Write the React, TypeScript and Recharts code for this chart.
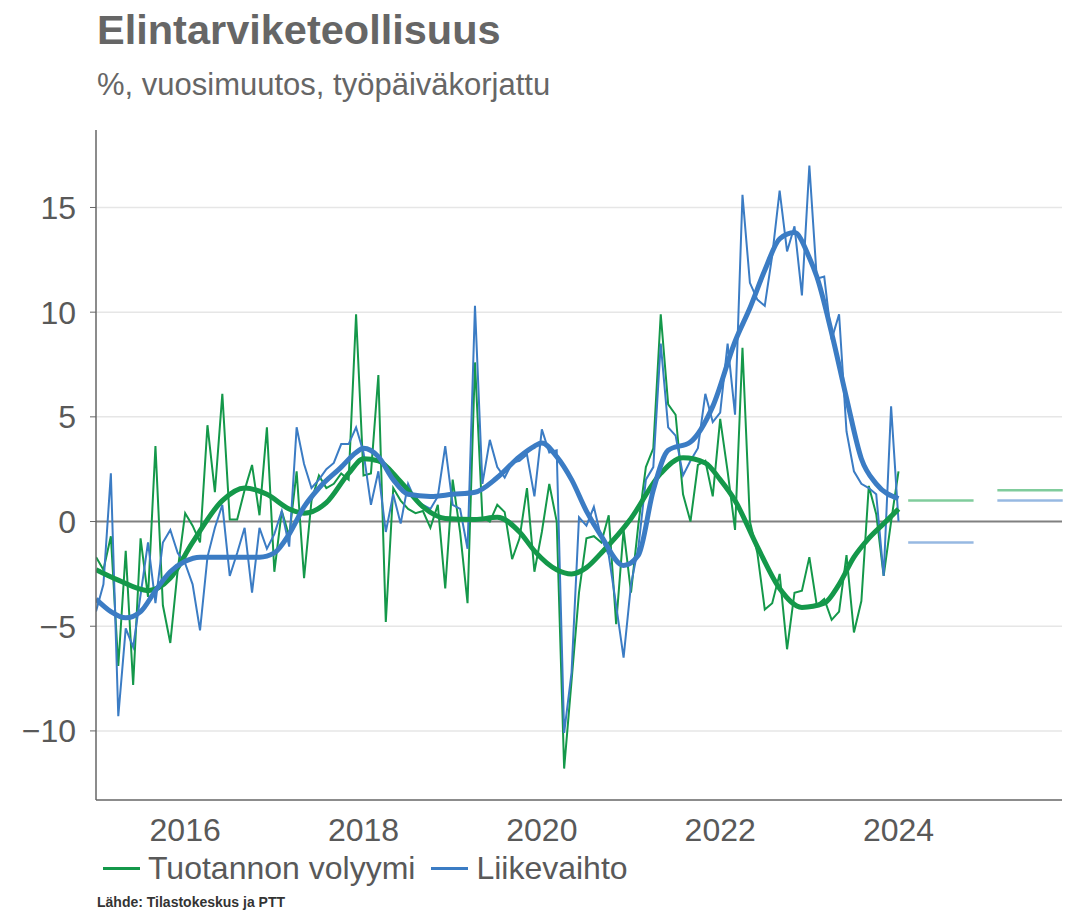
import React from 'react';
import { LineChart, Line, XAxis, YAxis, ReferenceLine } from 'recharts';

// monthly year-on-year change, Jan 2015 .. Jan 2024
const START_YEAR = 2015;

const volyymi = [
  -1.7, -2.3, -0.7, -6.9, -1.4, -7.8, -0.8, -3.6, 3.6, -4.0, -5.8, -2.3,
  0.4, -0.2, -1.0, 4.6, 1.4, 6.1, 0.1, 0.1, 1.5, 2.7, 0.3, 4.5,
  -2.4, 0.5, -0.7, 2.4, -2.7, 1.0, 2.2, 1.6, 1.8, 2.3, 2.0, 9.9,
  2.2, 2.3, 7.0, -4.8, 1.6, 1.0, 0.6, 0.4, 0.5, -0.3, 0.8, -3.2,
  2.0, -0.5, -3.9, 7.6, 0.2, 0.0, 0.8, 0.45, -1.8, -0.8, 1.6, -2.4,
  -0.5, 1.8, 0.0, -11.8, -7.6, -3.4, -0.8, -0.7, -1.0, 0.3, -4.9, -0.4,
  -3.4, -0.1, 2.6, 3.5, 9.9, 5.6, 5.1, 1.3, 0.0, 2.7, 2.9, 1.2,
  4.9, 2.4, -0.4, 8.3, 0.0, -1.5, -4.2, -3.9, -2.5, -6.1, -3.4, -3.3,
  -1.7, -4.0, -3.7, -4.7, -4.3, -1.6, -5.3, -3.8, 1.7, 0.35, -2.6, 0.0,
  2.4,
];

const liikevaihto = [
  -4.3, -3.0, 2.3, -9.3, -5.1, -6.0, -3.5, -1.0, -3.9, -1.0, -0.4, -1.5,
  -2.0, -3.0, -5.2, -1.7, -0.3, 0.8, -2.6, -1.5, -0.3, -3.4, -0.3, -1.3,
  -0.6, 0.5, -1.2, 4.5, 2.75, 1.6, 2.0, 2.5, 2.8, 3.7, 3.7, 4.5,
  3.3, 0.8, 2.4, -0.5, 1.3, -0.1, 1.8, 1.0, 0.8, 0.6, 1.2, 3.6,
  0.8, 0.6, -1.3, 10.3, 1.8, 3.9, 2.6, 2.1, 2.8, 2.9, 3.2, 1.2,
  4.4, 3.3, 3.4, -10.1, -7.2, 0.2, -0.2, 0.7, -0.8, -1.6, -4.0, -6.5,
  -3.0, -1.2, 2.0, 2.6, 8.5, 4.5, 4.1, 2.2, 2.9, 3.5, 6.1, 4.75,
  5.2, 8.5, 5.1, 15.6, 11.4, 10.6, 10.3, 12.7, 15.8, 12.9, 14.1, 10.8,
  17.0, 11.6, 11.7, 8.7, 9.9, 4.3, 2.4, 1.8, 1.6, 1.3, -2.6, 5.5,
  0.0,
];

// smoothed trends: [month index, value]
const volyymiTrend: [number, number][] = [
  [0, -2.3], [3, -2.8], [7, -3.3], [10, -2.7], [13, -1.0], [17, 1.0], [20, 1.6],
  [23, 1.3], [26, 0.6], [28, 0.4], [31, 0.9], [34, 2.3], [36, 3.0], [38, 2.9],
  [41, 1.9], [44, 0.7], [47, 0.15], [51, 0.1], [54, 0.2], [57, -0.5], [59, -1.4],
  [62, -2.3], [64, -2.5], [66, -2.2], [68, -1.5], [72, 0.15], [76, 2.3], [79, 3.05],
  [82, 2.8], [84, 2.0], [86, 1.0], [89, -1.2], [92, -3.2], [95, -4.1], [98, -3.9],
  [100, -3.0], [102, -1.7], [104, -0.8], [106, -0.1], [108, 0.6],
];

const liikevaihtoTrend: [number, number][] = [
  [0, -3.7], [2, -4.3], [4, -4.6], [6, -4.3], [8, -3.3], [10, -2.4], [12, -1.9],
  [14, -1.7], [18, -1.7], [22, -1.7], [24, -1.5], [26, -0.6], [28, 0.7], [30, 1.6],
  [33, 2.6], [35, 3.3], [36, 3.5], [38, 3.1], [40, 2.0], [42, 1.3], [45, 1.2],
  [48, 1.3], [51, 1.4], [54, 2.1], [57, 3.1], [59, 3.6], [60, 3.75], [62, 3.1],
  [64, 2.0], [66, 0.5], [68, -0.7], [71, -2.1], [73, -1.6], [75, 1.5], [77, 3.4],
  [80, 3.8], [83, 5.5], [86, 8.6], [88, 10.2], [90, 12.0], [92, 13.5], [94, 13.8],
  [96, 12.6], [97, 11.7], [99, 9.0], [101, 5.9], [103, 3.0], [105, 1.8], [108, 1.1],
];

// forecasts for 2024 and 2025
const forecastYears = [2024, 2025];
const forecastVolyymi = [1.0, 1.5];
const forecastLiikevaihto = [-1.0, 1.0];

const yTicks = [-10, -5, 0, 5, 10, 15];
const xTickYears = [2016, 2018, 2020, 2022, 2024];

const GREEN = '#14984a';
const BLUE = '#3b7cc4';
const GREEN_LIGHT = '#80cc9c';
const BLUE_LIGHT = '#97b9e2';
const FONT = '"Liberation Sans", Arial, sans-serif';

const data = volyymi.map((v, i) => ({ m: i, volyymi: v, liikevaihto: liikevaihto[i] }));
const toPoints = (arr: [number, number][]) => arr.map(([m, v]) => ({ m, v }));
const yearToMonth = (y: number) => (y - START_YEAR) * 12;

export default function App() {
  return (
    <div style={{ position: 'absolute', top: 0, left: 0, width: 1069, height: 910, background: '#fff', fontFamily: FONT }}>
      <div style={{ position: 'absolute', left: 97, top: 9, fontSize: 41.5, lineHeight: 1, fontWeight: 'bold', color: '#666' }}>
        Elintarviketeollisuus
      </div>
      <div style={{ position: 'absolute', left: 97, top: 69, fontSize: 31, lineHeight: 1, color: '#666' }}>
        %, vuosimuutos, työpäiväkorjattu
      </div>

      <div style={{ position: 'absolute', left: 0, top: 0 }}>
        <LineChart width={1069} height={850} data={data} margin={{ top: 130, right: 7, bottom: 0, left: 0 }}>
          <XAxis
            dataKey="m"
            type="number"
            domain={[0, 130]}
            ticks={xTickYears.map(yearToMonth)}
            tickFormatter={(m: number) => String(START_YEAR + m / 12)}
            tick={{ fontSize: 32, fill: '#595959', fontFamily: FONT }}
            tickLine={false}
            tickMargin={12}
            height={50}
            axisLine={{ stroke: '#666', strokeWidth: 1.5 }}
            allowDataOverflow
          />
          <YAxis
            type="number"
            domain={[-13.3, 18.7]}
            ticks={yTicks}
            tickFormatter={(v: number) => String(v).replace('-', '\u2212')}
            tick={{ fontSize: 32, fill: '#595959', fontFamily: FONT }}
            tickLine={{ stroke: '#666' }}
            tickSize={6}
            tickMargin={14}
            width={96}
            axisLine={{ stroke: '#666', strokeWidth: 1.5 }}
            allowDataOverflow
          />
          {yTicks.filter((t) => t !== 0).map((t) => (
            <ReferenceLine key={`g-${t}`} y={t} stroke="#e6e6e6" strokeWidth={1.5} />
          ))}
          <ReferenceLine y={0} stroke="#808080" strokeWidth={2} />
          {forecastYears.map((y, k) => (
            <ReferenceLine
              key={`fv-${y}`}
              segment={[{ x: yearToMonth(y) + 1.3, y: forecastVolyymi[k] }, { x: yearToMonth(y) + 10.1, y: forecastVolyymi[k] }]}
              stroke={GREEN_LIGHT}
              strokeWidth={2.5}
              ifOverflow="visible"
            />
          ))}
          {forecastYears.map((y, k) => (
            <ReferenceLine
              key={`fl-${y}`}
              segment={[{ x: yearToMonth(y) + 1.3, y: forecastLiikevaihto[k] }, { x: yearToMonth(y) + 10.1, y: forecastLiikevaihto[k] }]}
              stroke={BLUE_LIGHT}
              strokeWidth={2.5}
              ifOverflow="visible"
            />
          ))}
          <Line type="linear" dataKey="volyymi" stroke={GREEN} strokeWidth={2} dot={false} isAnimationActive={false} />
          <Line type="linear" dataKey="liikevaihto" stroke={BLUE} strokeWidth={2} dot={false} isAnimationActive={false} />
          <Line data={toPoints(volyymiTrend)} type="monotone" dataKey="v" stroke={GREEN} strokeWidth={5} dot={false} isAnimationActive={false} />
          <Line data={toPoints(liikevaihtoTrend)} type="monotone" dataKey="v" stroke={BLUE} strokeWidth={5} dot={false} isAnimationActive={false} />
        </LineChart>
      </div>

      {/* legend */}
      <div style={{ position: 'absolute', left: 103, top: 852, display: 'flex', alignItems: 'center', fontSize: 32, lineHeight: 1, color: '#595959' }}>
        <span style={{ display: 'inline-block', width: 37, height: 3, background: GREEN, marginRight: 8 }} />
        <span>Tuotannon volyymi</span>
        <span style={{ display: 'inline-block', width: 37, height: 3, background: BLUE, marginLeft: 16, marginRight: 8 }} />
        <span>Liikevaihto</span>
      </div>

      <div style={{ position: 'absolute', left: 97, top: 895, fontSize: 14, lineHeight: 1, fontWeight: 'bold', color: '#333', fontFamily: '"Liberation Sans Narrow", "Liberation Sans", Arial, sans-serif' }}>
        Lähde: Tilastokeskus ja PTT
      </div>
    </div>
  );
}
